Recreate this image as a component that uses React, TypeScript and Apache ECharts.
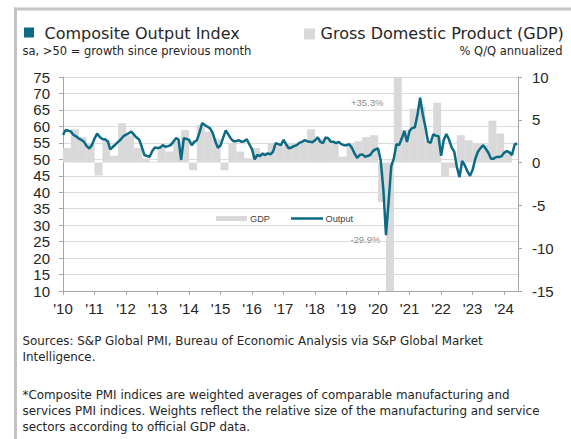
import React, { useEffect, useRef } from "react";
import * as echarts from "echarts";

// ---- Data ----
const yearTicks = ["'10", "'11", "'12", "'13", "'14", "'15", "'16", "'17", "'18", "'19", "'20", "'21", "'22", "'23", "'24"];

// Composite Output Index, monthly (Jan..Dec)
const pmi2010 = [57.4, 58.9, 58.7, 58.4, 57.4, 57.0, 56.3, 55.9, 55.3, 54.0, 53.3, 54.3];
const pmi2011 = [56.3, 57.8, 56.8, 56.2, 56.1, 55.5, 53.0, 53.8, 54.5, 55.3, 56.0, 57.0];
const pmi2012 = [57.5, 57.9, 58.4, 57.5, 56.6, 56.0, 53.8, 51.3, 51.0, 50.8, 52.5, 53.6];
const pmi2013 = [53.4, 53.6, 54.3, 53.8, 54.0, 54.3, 55.3, 56.4, 56.0, 49.8, 56.4, 56.2];
const pmi2014 = [55.9, 54.3, 55.3, 55.8, 58.2, 61.0, 60.4, 59.9, 59.4, 58.0, 55.5, 53.5];
const pmi2015 = [54.2, 56.6, 58.8, 57.5, 56.2, 55.5, 55.5, 55.8, 55.3, 55.5, 56.1, 54.5];
const pmi2016 = [53.0, 50.0, 51.3, 51.0, 51.7, 51.3, 51.8, 51.5, 52.3, 54.9, 54.6, 54.3];
const pmi2017 = [55.9, 54.5, 53.3, 53.6, 54.0, 54.3, 55.0, 55.3, 55.8, 55.5, 55.3, 55.2];
const pmi2018 = [55.8, 56.7, 55.3, 54.9, 56.6, 56.4, 55.3, 55.3, 54.9, 55.3, 54.6, 54.3];
const pmi2019 = [54.3, 54.6, 53.5, 51.8, 50.4, 51.3, 51.5, 50.8, 51.0, 51.3, 52.5, 53.0];
const pmi2020 = [53.3, 49.6, 40.9, 27.0, 37.0, 47.9, 50.3, 54.6, 54.3, 56.3, 58.6, 55.3];
const pmi2021 = [58.7, 59.5, 59.7, 63.5, 68.7, 63.7, 59.9, 55.4, 55.0, 57.6, 57.2, 57.0];
const pmi2022 = [51.1, 55.9, 57.7, 56.0, 53.6, 52.3, 47.7, 44.6, 49.5, 48.2, 46.4, 45.0];
const pmi2023 = [46.8, 50.1, 52.3, 53.4, 54.3, 53.2, 52.0, 50.2, 50.2, 50.7, 50.7, 50.9];
const pmi2024 = [52.0, 52.5, 52.1, 51.3, 54.5, 54.8];

// GDP, % Q/Q annualized, quarterly (Q1..Q4)
const gdp2010 = [1.7, 3.9, 3.0, 2.3];
const gdp2011 = [-1.5, 2.6, 0.8, 4.6];
const gdp2012 = [3.2, 1.7, 0.5, 0.1];
const gdp2013 = [1.9, 1.3, 2.5, 3.8];
const gdp2014 = [-0.9, 4.4, 3.6, 2.8];
const gdp2015 = [-0.9, 2.3, 1.3, 0.5];
const gdp2016 = [1.7, 1.2, 2.3, 2.0];
const gdp2017 = [2.3, 2.3, 2.4, 3.9];
const gdp2018 = [2.8, 2.7, 2.4, 0.7];
const gdp2019 = [2.3, 2.5, 3.0, 3.2];
const gdp2020 = [-4.6, -29.9, 35.3, 3.8];
const gdp2021 = [6.3, 6.5, 2.5, 7.0];
const gdp2022 = [-1.6, -0.6, 3.2, 2.6];
const gdp2023 = [2.2, 2.1, 4.9, 3.4];
const gdp2024 = [1.4];

const pmiYears = [pmi2010, pmi2011, pmi2012, pmi2013, pmi2014, pmi2015, pmi2016, pmi2017, pmi2018, pmi2019, pmi2020, pmi2021, pmi2022, pmi2023, pmi2024];
const gdpYears = [gdp2010, gdp2011, gdp2012, gdp2013, gdp2014, gdp2015, gdp2016, gdp2017, gdp2018, gdp2019, gdp2020, gdp2021, gdp2022, gdp2023, gdp2024];

const TEAL = "#0b6a84";
const BAR = "#d9d9d9";
const AXIS = "#a6a6a6";
const HEAD_FONT = "'DejaVu Sans', sans-serif";
const AX_FONT = "'Liberation Sans', Arial, sans-serif";

export default function App() {
  const ref = useRef<HTMLDivElement>(null);
  useEffect(() => {
    const el = ref.current!;
    const chart = echarts.init(el, null, { renderer: "svg", width: 571, height: 439 });

    const lineData: number[][] = [];
    pmiYears.forEach((arr, yi) => arr.forEach((v, m) => lineData.push([2010 + yi + m / 12, v])));
    const barData: number[][] = [];
    gdpYears.forEach((arr, yi) => arr.forEach((v, q) => barData.push([2010 + yi + (q + 0.5) / 4, v])));

    const headText = (x: number, y: number, text: string, size: number, align = "left", color = "#262626", font = HEAD_FONT) => ({
      type: "text",
      x,
      y,
      silent: true,
      style: { text, fill: color, font: `${size}px ${font}`, align, verticalAlign: "middle" },
    });

    chart.setOption({
      animation: false,
      backgroundColor: "#ffffff",
      grid: { left: 63, right: 53, top: 77, bottom: 148, containLabel: false },
      xAxis: {
        type: "value",
        min: 2010,
        max: 2024.44,
        interval: 1,
        axisLine: { show: true, onZero: false, lineStyle: { color: AXIS, width: 1 } },
        axisTick: { show: true, length: 4, lineStyle: { color: AXIS } },
        splitLine: { show: false },
        axisLabel: {
          showMaxLabel: false,
          margin: 10,
          color: "#262626",
          fontSize: 15,
          fontFamily: AX_FONT,
          formatter: (v: number) => {
            const i = Math.round(v - 2010);
            return Math.abs(v - 2010 - i) < 1e-6 ? yearTicks[i] ?? "" : "";
          },
        },
      },
      yAxis: [
        {
          type: "value",
          min: 10,
          max: 75,
          interval: 5,
          position: "left",
          axisLine: { show: true, lineStyle: { color: AXIS } },
          axisTick: { show: true, length: 4, lineStyle: { color: AXIS } },
          splitLine: { show: true, lineStyle: { color: "#dcdcdc", width: 1 } },
          axisLabel: { color: "#262626", fontSize: 15, fontFamily: AX_FONT, margin: 13 },
        },
        {
          type: "value",
          min: -15,
          max: 10,
          interval: 5,
          position: "right",
          axisLine: { show: true, lineStyle: { color: AXIS } },
          axisTick: { show: true, length: 4, lineStyle: { color: AXIS } },
          splitLine: { show: false },
          axisLabel: { color: "#262626", fontSize: 15, fontFamily: AX_FONT, margin: 14 },
        },
      ],
      series: [
        {
          name: "GDP",
          type: "bar",
          yAxisIndex: 1,
          data: barData,
          barWidth: 8,
          itemStyle: { color: BAR },
          clip: true,
          z: 1,
        },
        {
          name: "Output",
          type: "line",
          yAxisIndex: 0,
          data: lineData,
          showSymbol: false,
          symbol: "none",
          lineStyle: { color: TEAL, width: 2.5 },
          z: 3,
        },
      ],
      graphic: [
        { type: "rect", silent: true, shape: { x: 14, y: 7.5, width: 557, height: 3 }, style: { fill: "#c4c4c4" } },
        { type: "rect", silent: true, shape: { x: 14, y: 7.5, width: 3, height: 432 }, style: { fill: "#c4c4c4" } },
        { type: "rect", silent: true, shape: { x: 24, y: 27.5, width: 10, height: 10 }, style: { fill: TEAL } },
        headText(44.5, 33, "Composite Output Index", 16),
        headText(22.5, 51, "sa, >50 = growth since previous month", 11.5),
        { type: "rect", silent: true, shape: { x: 304, y: 28.5, width: 11, height: 11 }, style: { fill: BAR } },
        headText(320.5, 33, "Gross Domestic Product (GDP)", 16),
        headText(562.5, 51, "% Q/Q annualized", 11.5, "right"),
        // in-plot legend
        { type: "rect", silent: true, shape: { x: 216, y: 216, width: 31, height: 5 }, style: { fill: BAR } },
        headText(250, 218.5, "GDP", 9.2, "left", "#404040", AX_FONT),
        { type: "line", silent: true, shape: { x1: 291, y1: 218.5, x2: 323, y2: 218.5 }, style: { stroke: TEAL, lineWidth: 2.5 } },
        headText(325.5, 218.5, "Output", 9.2, "left", "#404040", AX_FONT),
        // annotations
        headText(383.5, 102.3, "+35.3%", 9.5, "right", "#8c8c8c", AX_FONT),
        headText(380.5, 239, "-29.9%", 9.5, "right", "#8c8c8c", AX_FONT),
        // footnotes
        headText(22.5, 341, "Sources: S&P Global PMI, Bureau of Economic Analysis via S&P Global Market", 11.9),
        headText(22.5, 356.5, "Intelligence.", 11.9),
        headText(22.5, 395, "*Composite PMI indices are weighted averages of comparable manufacturing and", 11.9),
        headText(22.5, 411, "services PMI indices. Weights reflect the relative size of the manufacturing and service", 11.9),
        headText(22.5, 427, "sectors according to official GDP data.", 11.9),
      ],
    });
    return () => chart.dispose();
  }, []);
  return <div ref={ref} style={{ position: "fixed", left: 0, top: 0, width: 571, height: 439, background: "#fff" }} />;
}
